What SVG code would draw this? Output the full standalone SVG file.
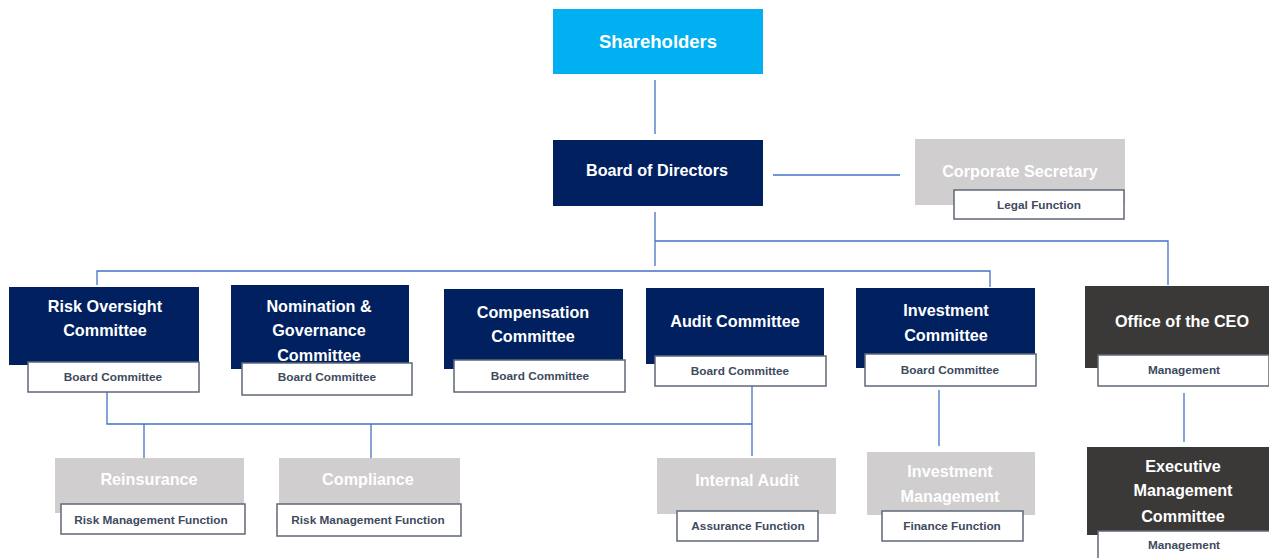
<svg xmlns="http://www.w3.org/2000/svg" width="1269" height="558" viewBox="0 0 1269 558">
<style>
.t{font-family:"Liberation Sans",Arial,sans-serif;font-weight:bold;font-size:16.2px;fill:#fff;text-anchor:middle;dominant-baseline:central}
.s{font-family:"Liberation Sans",Arial,sans-serif;font-weight:bold;font-size:11.8px;fill:#3E4A5E;text-anchor:middle;dominant-baseline:central}
.sub{fill:#fff;stroke:#5F6878;stroke-width:1.5}
.navy{fill:#002060}
.dark{fill:#3B3838}
.grey{fill:#D0CECE}
.c{fill:none;stroke:#4472C4;stroke-width:1.3}
</style>
<rect width="1269" height="558" fill="#fff"/>
<g id="connectors">
<path class="c" d="M655 80V134"/>
<path class="c" d="M773 175H900"/>
<path class="c" d="M655 212V266"/>
<path class="c" d="M655 241H1168V285"/>
<path class="c" d="M97 285V271H990V287"/>
<path class="c" d="M107 392V424H752"/>
<path class="c" d="M752 386V456"/>
<path class="c" d="M144 424V459"/>
<path class="c" d="M371 424V463"/>
<path class="c" d="M939 390V446"/>
<path class="c" d="M1184 393V442"/>
</g>
<g id="shareholders"><rect x="553" y="9" width="210" height="65" fill="#00B0F0"/><text class="t" x="658" y="41" style="font-size:18.5px">Shareholders</text></g>
<g id="board"><rect class="navy" x="553" y="140" width="210" height="66"/><text class="t" x="657" y="170">Board of Directors</text></g>
<g id="corpsec"><rect class="grey" x="915" y="139" width="210" height="66"/><text class="t" x="1020" y="171">Corporate Secretary</text>
<rect class="sub" x="954" y="190" width="170" height="29"/><text class="s" x="1039" y="205">Legal Function</text></g>
<g id="risk"><rect class="navy" x="9" y="287" width="190" height="78"/><text class="t" x="105" y="306">Risk Oversight</text><text class="t" x="105" y="330">Committee</text>
<rect class="sub" x="28" y="362" width="171" height="30"/><text class="s" x="113" y="377">Board Committee</text></g>
<g id="nomination"><rect class="navy" x="231" y="285" width="178" height="84"/><text class="t" x="319" y="306">Nomination &amp;</text><text class="t" x="319" y="330">Governance</text><text class="t" x="319" y="355">Committee</text>
<rect class="sub" x="242" y="363" width="170" height="32"/><text class="s" x="327" y="377">Board Committee</text></g>
<g id="compensation"><rect class="navy" x="444" y="289" width="179" height="80"/><text class="t" x="533" y="312">Compensation</text><text class="t" x="533" y="336">Committee</text>
<rect class="sub" x="454" y="360" width="171" height="32"/><text class="s" x="540" y="376">Board Committee</text></g>
<g id="audit"><rect class="navy" x="646" y="288" width="178" height="76"/><text class="t" x="735" y="321">Audit Committee</text>
<rect class="sub" x="655" y="356" width="171" height="30"/><text class="s" x="740" y="371">Board Committee</text></g>
<g id="investment"><rect class="navy" x="856" y="288" width="179" height="80"/><text class="t" x="946" y="310">Investment</text><text class="t" x="946" y="335">Committee</text>
<rect class="sub" x="865" y="354" width="171" height="32"/><text class="s" x="950" y="370">Board Committee</text></g>
<g id="ceo"><rect class="dark" x="1085" y="286" width="184" height="82"/><text class="t" x="1182" y="321">Office of the CEO</text>
<rect class="sub" x="1098" y="355" width="171" height="31"/><text class="s" x="1184" y="370">Management</text></g>
<g id="reinsurance"><rect class="grey" x="55" y="458" width="189" height="55"/><text class="t" x="149" y="479">Reinsurance</text>
<rect class="sub" x="61" y="504" width="184" height="30"/><text class="s" x="151" y="520">Risk Management Function</text></g>
<g id="compliance"><rect class="grey" x="279" y="458" width="181" height="55"/><text class="t" x="368" y="479">Compliance</text>
<rect class="sub" x="277" y="504" width="184" height="32"/><text class="s" x="368" y="520">Risk Management Function</text></g>
<g id="internalaudit"><rect class="grey" x="657" y="458" width="179" height="56"/><text class="t" x="747" y="480">Internal Audit</text>
<rect class="sub" x="677" y="511" width="141" height="30"/><text class="s" x="748" y="526">Assurance Function</text></g>
<g id="investmgmt"><rect class="grey" x="867" y="452" width="168" height="63"/><text class="t" x="950" y="471">Investment</text><text class="t" x="950" y="496">Management</text>
<rect class="sub" x="882" y="511" width="141" height="30"/><text class="s" x="952" y="526">Finance Function</text></g>
<g id="exec"><rect class="dark" x="1087" y="447" width="182" height="88"/><text class="t" x="1183" y="466">Executive</text><text class="t" x="1183" y="490">Management</text><text class="t" x="1183" y="516">Committee</text>
<rect class="sub" x="1098" y="531" width="175" height="35"/><text class="s" x="1184" y="545">Management</text></g>
</svg>
